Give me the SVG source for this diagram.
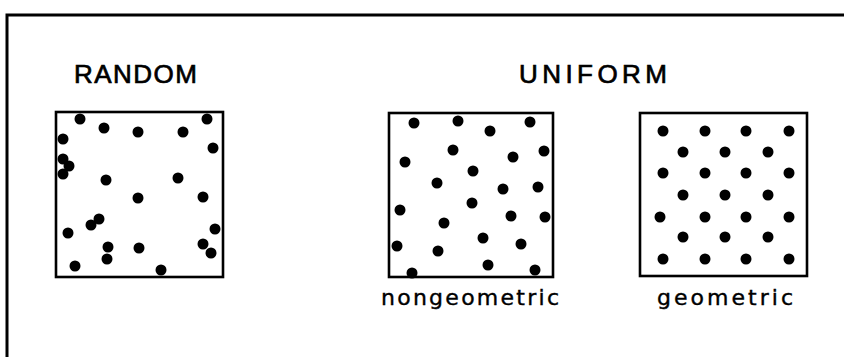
<svg xmlns="http://www.w3.org/2000/svg" width="844" height="357" viewBox="0 0 844 357">
<style>
.frame{fill:none;stroke:#000;stroke-width:3}
.box{fill:none;stroke:#000;stroke-width:2.6}
.dot circle{fill:#000;r:5.5px}
.title{font-family:"Liberation Sans",Arial,sans-serif;font-size:26px;fill:#000;stroke:#000;stroke-width:0.7}
.label{font-family:"DejaVu Sans",Verdana,sans-serif;font-size:22px;fill:#000;stroke:#000;stroke-width:0.4}
</style>
<rect width="844" height="357" fill="#fff"/>
<path class="frame" d="M7,357 V15 H844"/>
<g id="random">
<text class="title" x="74" y="83" textLength="123" lengthAdjust="spacing">RANDOM</text>
<rect class="box" x="56" y="112" width="167" height="165"/>
<g class="dot">
<circle cx="80" cy="119" r="5.5"/><circle cx="104" cy="128" r="5.5"/><circle cx="138" cy="132" r="5.5"/><circle cx="183" cy="132" r="5.5"/><circle cx="207" cy="119" r="5.5"/>
<circle cx="63" cy="139" r="5.5"/><circle cx="213" cy="148" r="5.5"/>
<circle cx="63" cy="159" r="5.5"/><circle cx="69" cy="166" r="5.5"/><circle cx="63" cy="174" r="5.5"/>
<circle cx="106" cy="180" r="5.5"/><circle cx="178" cy="178" r="5.5"/><circle cx="138" cy="198" r="5.5"/><circle cx="203" cy="197" r="5.5"/>
<circle cx="99" cy="219" r="5.5"/><circle cx="91" cy="225" r="5.5"/><circle cx="68" cy="233" r="5.5"/><circle cx="215" cy="229" r="5.5"/>
<circle cx="108" cy="247" r="5.5"/><circle cx="107" cy="259" r="5.5"/><circle cx="139" cy="248" r="5.5"/><circle cx="203" cy="244" r="5.5"/><circle cx="211" cy="253" r="5.5"/>
<circle cx="75" cy="266" r="5.5"/><circle cx="161" cy="270" r="5.5"/>
</g>
</g>
<g id="uniform-title">
<text class="title" x="519" y="83" textLength="148" lengthAdjust="spacing">UNIFORM</text>
</g>
<g id="nongeometric">
<rect class="box" x="389" y="113" width="164" height="164"/>
<g class="dot">
<circle cx="414" cy="123" r="5.5"/><circle cx="458" cy="121" r="5.5"/><circle cx="490" cy="131" r="5.5"/><circle cx="530" cy="122" r="5.5"/>
<circle cx="453" cy="150" r="5.5"/><circle cx="544" cy="151" r="5.5"/><circle cx="405" cy="162" r="5.5"/><circle cx="513" cy="157" r="5.5"/>
<circle cx="473" cy="171" r="5.5"/><circle cx="437" cy="183" r="5.5"/><circle cx="503" cy="189" r="5.5"/><circle cx="538" cy="187" r="5.5"/>
<circle cx="472" cy="203" r="5.5"/><circle cx="400" cy="210" r="5.5"/><circle cx="511" cy="216" r="5.5"/><circle cx="545" cy="217" r="5.5"/>
<circle cx="444" cy="223" r="5.5"/><circle cx="483" cy="238" r="5.5"/><circle cx="521" cy="244" r="5.5"/><circle cx="397" cy="246" r="5.5"/>
<circle cx="438" cy="251" r="5.5"/><circle cx="488" cy="265" r="5.5"/><circle cx="412" cy="273" r="5.5"/><circle cx="535" cy="270" r="5.5"/>
</g>
<text class="label" x="381" y="305" textLength="178" lengthAdjust="spacing">nongeometric</text>
</g>
<g id="geometric">
<rect class="box" x="640" y="113" width="167" height="163"/>
<g class="dot">
<circle cx="663" cy="131" r="5.5"/><circle cx="705" cy="131" r="5.5"/><circle cx="746" cy="131" r="5.5"/><circle cx="789" cy="131" r="5.5"/>
<circle cx="683" cy="152" r="5.5"/><circle cx="725" cy="152" r="5.5"/><circle cx="768" cy="152" r="5.5"/>
<circle cx="663" cy="173" r="5.5"/><circle cx="705" cy="173" r="5.5"/><circle cx="746" cy="173" r="5.5"/><circle cx="789" cy="173" r="5.5"/>
<circle cx="683" cy="195" r="5.5"/><circle cx="725" cy="195" r="5.5"/><circle cx="768" cy="195" r="5.5"/>
<circle cx="660" cy="217" r="5.5"/><circle cx="705" cy="217" r="5.5"/><circle cx="746" cy="217" r="5.5"/><circle cx="789" cy="217" r="5.5"/>
<circle cx="683" cy="237" r="5.5"/><circle cx="725" cy="237" r="5.5"/><circle cx="768" cy="237" r="5.5"/>
<circle cx="663" cy="259" r="5.5"/><circle cx="705" cy="259" r="5.5"/><circle cx="746" cy="259" r="5.5"/><circle cx="789" cy="259" r="5.5"/>
</g>
<text class="label" x="657" y="305" textLength="136" lengthAdjust="spacing">geometric</text>
</g>
</svg>
